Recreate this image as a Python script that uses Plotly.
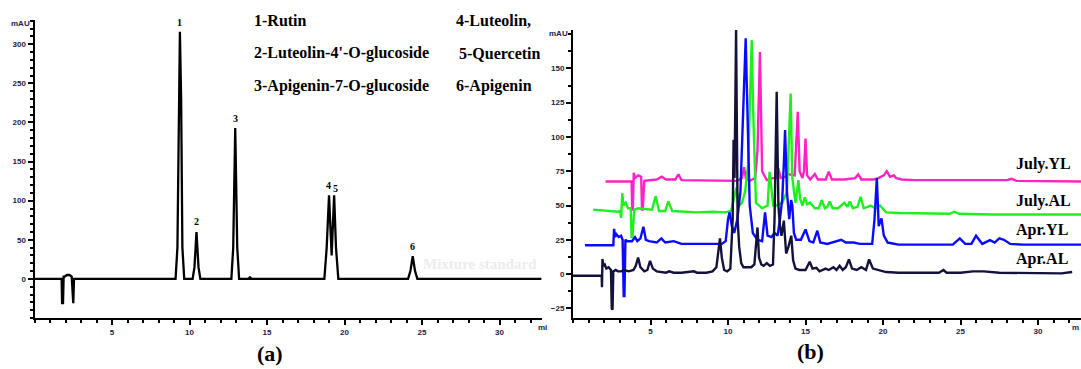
import plotly.graph_objects as go

W, H = 1081, 369

# ---------------- Panel (a): mixture standard ----------------
std_t = [0, 1.75, 1.78, 1.84, 1.88, 1.95, 2.1, 2.25, 2.4, 2.46, 2.5, 2.55, 2.6, 7.0, 9.1, 9.22, 9.3, 9.38, 9.46,
         9.54, 9.66, 10.2, 10.32, 10.45, 10.58, 10.7, 12.7, 12.82, 12.95, 13.08, 13.2, 13.8, 13.9, 14.0, 18.7,
         18.85, 19.0, 19.17, 19.33, 19.45, 19.6, 24.1, 24.25, 24.4, 24.55, 24.7, 32.7]
std_y = [0, 0, -31, -31, 3, 3, 5, 5, 3, -31, -31, 0, 0, 0, 0, 40, 230, 316, 230, 40, 0, 0, 15, 60, 15, 0, 0,
         40, 193, 40, 0, 0, 2, 0, 0, 40, 107, 30, 107, 40, 0, 0, 10, 29, 10, 0, 0]

peak_labels = ["1", "2", "3", "4", "5", "6"]
peak_label_t = [9.38, 10.45, 12.95, 18.95, 19.42, 24.4]
peak_label_y = [328, 73, 205, 119, 116, 41]

legend_left = ["1-Rutin", "2-Luteolin-4'-O-glucoside", "3-Apigenin-7-O-glucoside"]
legend_right = ["4-Luteolin,", "5-Quercetin", "6-Apigenin"]

# ---------------- Panel (b): samples ----------------
apr_al_t = [0, 1.85, 1.87, 1.9, 1.95, 2.05, 2.15, 2.3, 2.45, 2.5, 2.55, 2.6, 2.75, 2.9, 3.1, 3.3, 3.6, 3.9, 4.05,
            4.2, 4.35, 4.6, 4.8, 4.97, 5.15, 5.4, 6.0, 6.2, 6.5, 7.0, 7.8, 8.0, 8.6, 9.0, 9.25, 9.38, 9.48, 9.6,
            9.75, 9.95, 10.15, 10.3, 10.36, 10.42, 10.52, 10.62, 10.72, 10.85, 11.0, 11.2, 11.5, 11.7, 11.82,
            11.9, 12.0, 12.15, 12.3, 12.5, 12.7, 12.9, 13.0, 13.14, 13.25, 13.35, 13.45, 13.6, 13.75, 13.9,
            14.08, 14.2, 14.35, 14.6, 15.0, 15.27, 15.45, 15.7, 15.9, 16.3, 16.5, 16.8, 17.0, 17.2, 17.4,
            17.6, 17.8, 18.0, 18.3, 18.6, 18.9, 19.1, 19.35, 19.7, 20.2, 21, 23.6, 23.9, 24.1, 24.35, 25.0,
            25.8, 26.5, 27.5, 31.5, 32.2, 32.8]
apr_al_y = [-1.2, -1.2, -9.5, 11, 6, 7, 4, 5, 3, -25, -26, 2, 3, 2, 2, 3, 2, 3, 6, 12, 5, 2, 3, 9.7, 4, 2, 1, 2,
            1, 1, 2, 1, 1, 2, 5, 20, 26, 12, 3, 2, 4, 40, 98, 70, 178, 40, 20, 8, 5, 5, 5, 7, 25, 34, 12, 7, 6,
            8, 6, 7, 40, 133, 50, 35, 28, 39, 15, 20, 28, 10, 4, 3, 3, 9, 4, 4.6, 2, 4, 3, 5, 3, 6, 3, 5, 10.7,
            4, 3, 5, 3, 10.7, 4, 3, 1.5, 1, 1, 3, 1, 1, 1, 2, 2, 1, 0.5, 1.5]

apr_yl_t = [0.77, 2.6, 2.65, 2.72, 2.8, 2.95, 3.1, 3.2, 3.27, 3.32, 3.38, 3.5, 3.8, 4.0, 4.15, 4.35, 4.54, 4.7,
            4.9, 5.4, 5.7, 5.95, 6.5, 7.0, 8.0, 9.0, 9.6, 9.85, 10.0, 10.1, 10.25, 10.4, 10.6, 10.8, 10.95,
            11.05, 11.14, 11.25, 11.4, 11.6, 11.9, 12.2, 12.39, 12.55, 12.8, 13.0, 13.2, 13.35, 13.5, 13.6,
            13.68, 13.8, 13.95, 14.07, 14.15, 14.25, 14.4, 14.7, 15.0, 15.25, 15.5, 15.76, 15.95, 16.4, 17.0,
            17.3, 17.6, 18.1, 18.5, 19.3, 19.45, 19.6, 19.72, 19.8, 19.9, 20.05, 20.3, 21.0, 24.5, 24.95,
            25.3, 25.7, 26.0, 26.4, 26.9, 27.2, 27.5, 27.8, 28.2, 29, 32.8]
apr_yl_y = [21, 21, 33, 27, 29, 27, 28, 25, -16, -16, 25, 24, 24, 27, 24, 26, 34.5, 25, 24, 23, 26, 23, 24, 22,
            22, 22, 22, 24, 40, 45, 35, 30, 40, 60, 110, 150, 172, 120, 50, 30, 25, 24, 45, 28, 27, 30, 28, 40,
            55, 80, 105, 60, 40, 54, 50, 30, 25, 25, 32.6, 24, 23, 31.6, 23, 22, 24, 25, 23, 23, 22, 22, 40,
            70, 35, 38, 40.6, 28, 23, 21.5, 21.5, 26, 22, 22, 28, 22, 24.8, 23, 26, 25, 22, 21.5, 21.5]

jul_al_t = [1.3, 2.9, 3.05, 3.1, 3.18, 3.25, 3.4, 3.55, 3.72, 3.78, 3.84, 3.95, 4.2, 5.1, 5.33, 5.55, 5.95, 6.15,
            6.4, 7.0, 8.0, 9.0, 9.8, 10.2, 10.4, 10.54, 10.7, 10.9, 11.1, 11.3, 11.45, 11.53, 11.62, 11.8, 12.2,
            12.55, 12.68, 12.8, 12.92, 13.1, 13.5, 13.8, 13.95, 14.04, 14.15, 14.35, 14.45, 14.54, 14.65, 14.8,
            14.95, 15.1, 15.3, 15.6, 15.85, 16.04, 16.25, 16.4, 16.56, 16.75, 17.1, 17.3, 17.5, 17.7, 17.85,
            18.05, 18.35, 18.56, 18.75, 19.0, 19.2, 19.5, 19.8, 20.2, 21, 24.3, 24.6, 24.9, 27, 32.8]
jul_al_y = [47, 45.5, 46, 41, 59, 50, 52, 48, 48, 27, 27, 47, 48, 47, 56.8, 46, 46, 53, 46, 45.5, 45, 45.5, 45,
            46, 55, 63, 50, 52, 60, 80, 140, 170.6, 120, 52, 48, 50, 74.6, 60, 50, 50, 52, 60, 110, 131.7, 70,
            52, 60, 68.5, 55, 50, 56, 51, 52, 48, 48, 54, 48, 49, 53, 48, 48, 50, 52, 49, 53, 48, 49, 56.4, 48,
            49, 50, 48, 50, 45, 44.5, 44, 45.5, 44, 43.5, 43.5]

jul_yl_t = [2.1, 3.78, 3.82, 3.86, 3.92, 4.0, 4.2, 4.4, 4.45, 4.5, 4.6, 5.4, 5.72, 6.0, 6.6, 6.8, 7.0, 8, 9.5,
            10.6, 10.9, 11.03, 11.15, 11.4, 11.75, 11.9, 12.06, 12.2, 12.5, 12.9, 13.1, 13.25, 13.4, 13.7,
            13.85, 14.3, 14.5, 14.62, 14.8, 14.9, 15.0, 15.1, 15.3, 15.6, 15.8, 16.3, 16.5, 16.7, 17.5, 18.2,
            18.4, 18.6, 19.4, 19.7, 20.05, 20.24, 20.45, 20.7, 20.85, 21.2, 22, 28.0, 28.3, 28.6, 32.8]
jul_yl_y = [67.5, 67.5, 47, 47, 73.8, 70, 72, 71, 47, 47, 68, 69, 71, 69, 69, 72.7, 68.5, 68.5, 68, 68, 70, 78,
            70, 68, 70, 90, 162, 75, 68.5, 70, 70, 77, 70, 71, 73, 72, 118.3, 75, 70, 75, 98.9, 72, 69, 73, 69,
            69, 74.6, 69, 69, 70, 72.7, 69, 69, 70, 72, 75, 71, 72, 70, 69, 68.5, 68.5, 69.5, 68, 67.5]

sample_names = ["July.YL", "July.AL", "Apr.YL", "Apr.AL"]
sample_colors = ["#ff22c4", "#1ef01e", "#0a0aff", "#12123a"]

fig = go.Figure()
fig.add_trace(go.Scatter(x=std_t, y=std_y, mode="lines", line=dict(color="black", width=2.3),
                         xaxis="x", yaxis="y", showlegend=False))
for t, y, c in [(jul_yl_t, jul_yl_y, sample_colors[0]), (jul_al_t, jul_al_y, sample_colors[1]),
                (apr_yl_t, apr_yl_y, sample_colors[2]), (apr_al_t, apr_al_y, sample_colors[3])]:
    fig.add_trace(go.Scatter(x=t, y=y, mode="lines", line=dict(color=c, width=2.4),
                             xaxis="x2", yaxis="y2", showlegend=False))

tickfont = dict(family="Liberation Sans", size=8, color="#222244", weight="bold")
axcommon = dict(showline=True, linecolor="black", linewidth=2, ticks="outside", ticklen=5, tickwidth=1.5,
                tickcolor="black", showgrid=False, zeroline=False, tickfont=tickfont)


def px(x):
    return x / W


def py(y):
    return 1 - y / H


fig.update_layout(
    width=W, height=H, autosize=False, margin=dict(l=0, r=0, t=0, b=0),
    paper_bgcolor="white", plot_bgcolor="white",
    xaxis=dict(domain=[px(34.5), px(542)], range=[0, 32.74], anchor="y", tickvals=[5, 10, 15, 20, 25, 30],
               minor=dict(dtick=1, ticks="outside", ticklen=3, tickcolor="black"), **axcommon),
    yaxis=dict(domain=[py(318), py(20)], range=[-50, 331], anchor="x", tickvals=[0, 50, 100, 150, 200, 250, 300],
               minor=dict(dtick=10, ticks="outside", ticklen=3, tickcolor="black"), **axcommon),
    xaxis2=dict(domain=[px(573), 1.0], range=[0, 32.77], anchor="y2", tickvals=[5, 10, 15, 20, 25, 30],
                minor=dict(dtick=1, ticks="outside", ticklen=3, tickcolor="black"), **axcommon),
    yaxis2=dict(domain=[py(317.7), py(30)], range=[-31.8, 178], anchor="x2",
                tickvals=[-25, 0, 25, 50, 75, 100, 125, 150],
                minor=dict(dtick=12.5, ticks="outside", ticklen=3, tickcolor="black"), **axcommon),
)

ann = []
small = dict(family="Liberation Sans", size=8, color="#222244", weight="bold")
ann.append(dict(text="mAU", x=px(32), y=py(23), xref="paper", yref="paper", xanchor="right", yanchor="middle",
                showarrow=False, font=small))
ann.append(dict(text="mi", x=px(542), y=py(327), xref="paper", yref="paper", xanchor="center", yanchor="middle",
                showarrow=False, font=small))
ann.append(dict(text="mAU", x=px(570), y=py(33), xref="paper", yref="paper", xanchor="right", yanchor="middle",
                showarrow=False, font=small))
ann.append(dict(text="m", x=px(1075), y=py(327), xref="paper", yref="paper", xanchor="center", yanchor="middle",
                showarrow=False, font=small))

for lab, t, y in zip(peak_labels, peak_label_t, peak_label_y):
    ann.append(dict(text=lab, x=t, y=y, xref="x", yref="y", showarrow=False, yanchor="middle",
                    font=dict(family="Liberation Serif", size=10, color="black", weight="bold")))

legfont = dict(family="Liberation Serif", size=16, color="black", weight="bold")
for i, s in enumerate(legend_left):
    ann.append(dict(text=s, x=px(252), y=py(21 + 32.5 * i), xref="paper", yref="paper", xanchor="left",
                    yanchor="middle", showarrow=False, font=legfont))
for i, (s, xx) in enumerate(zip(legend_right, [454, 457, 454])):
    ann.append(dict(text=s, x=px(xx), y=py(21 + 32.5 * i), xref="paper", yref="paper", xanchor="left",
                    yanchor="middle", showarrow=False, font=legfont))

ann.append(dict(text="Mixture standard", x=px(480), y=py(264), xref="paper", yref="paper", xanchor="center",
                yanchor="middle", showarrow=False,
                font=dict(family="Liberation Serif", size=15, color="#ececec", weight="bold")))

for s, yy in zip(sample_names, [164, 201, 230, 259]):
    ann.append(dict(text=s, x=px(1014), y=py(yy), xref="paper", yref="paper", xanchor="left", yanchor="middle",
                    showarrow=False, font=dict(family="Liberation Serif", size=16, color="black", weight="bold")))

panfont = dict(family="Liberation Serif", size=22, color="black", weight="bold")
ann.append(dict(text="(a)", x=px(270), y=py(353), xref="paper", yref="paper", xanchor="center", yanchor="middle",
                showarrow=False, font=panfont))
ann.append(dict(text="(b)", x=px(810), y=py(351), xref="paper", yref="paper", xanchor="center", yanchor="middle",
                showarrow=False, font=panfont))

fig.update_layout(annotations=ann)
fig.write_html("out.html", config={"displayModeBar": False},
               post_script="document.body.style.margin='0';document.body.style.overflow='hidden';")
